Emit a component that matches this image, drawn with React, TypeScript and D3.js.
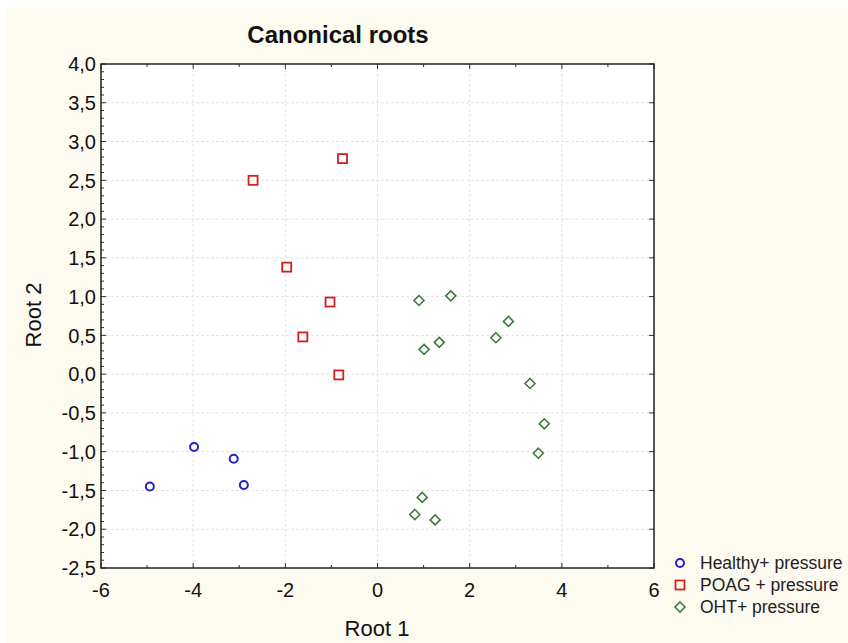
import React, { useEffect, useRef } from 'react';
import * as d3 from 'd3';

// Canonical root scores
const healthyX = [-4.94, -3.98, -3.12, -2.9];
const healthyY = [-1.45, -0.94, -1.09, -1.43];

const poagX = [-2.7, -0.76, -1.97, -1.03, -1.62, -0.84];
const poagY = [2.5, 2.78, 1.38, 0.93, 0.48, -0.01];

const ohtX = [0.9, 1.59, 2.84, 2.57, 1.01, 1.34, 3.31, 3.62, 3.49, 0.97, 0.81, 1.25];
const ohtY = [0.95, 1.01, 0.68, 0.47, 0.32, 0.41, -0.12, -0.64, -1.02, -1.59, -1.81, -1.88];

const xTicks = [-6, -4, -2, 0, 2, 4, 6];
const yTicks = [4, 3.5, 3, 2.5, 2, 1.5, 1, 0.5, 0, -0.5, -1, -1.5, -2, -2.5];

const seriesNames = ['Healthy+ pressure', 'POAG + pressure', 'OHT+ pressure'];

const W = 848;
const H = 643;

const App: React.FC = () => {
  const svgRef = useRef<SVGSVGElement>(null);

  useEffect(() => {
    document.body.style.margin = '0';
    document.body.style.overflow = 'hidden';
    if (!svgRef.current) return;
    const svg = d3.select(svgRef.current);
    svg.selectAll('*').remove();

    const left = 101, right = 654, top = 64, bottom = 568;
    const x = d3.scaleLinear().domain([-6, 6]).range([left, right]);
    const y = d3.scaleLinear().domain([-2.5, 4]).range([bottom, top]);

    svg.append('rect').attr('width', W).attr('height', H).attr('fill', '#ffffff');
    svg.append('rect').attr('x', 6).attr('y', 8).attr('width', W - 6).attr('height', H - 8).attr('fill', '#fdfaef');

    // plot background
    svg.append('rect')
      .attr('x', left).attr('y', top)
      .attr('width', right - left).attr('height', bottom - top)
      .attr('fill', '#ffffff');

    // grid
    const grid = svg.append('g').attr('stroke', '#e2e2e2').attr('stroke-width', 1).attr('stroke-dasharray', '3,2');
    xTicks.slice(1, -1).forEach(v => {
      grid.append('line').attr('x1', x(v)).attr('x2', x(v)).attr('y1', top).attr('y2', bottom);
    });
    yTicks.slice(1, -1).forEach(v => {
      grid.append('line').attr('x1', left).attr('x2', right).attr('y1', y(v)).attr('y2', y(v));
    });

    // inward ticks
    const ticks = svg.append('g').attr('stroke', '#333').attr('stroke-width', 1);
    d3.range(-6, 7, 1).forEach(v => {
      const len = v % 2 === 0 ? 5 : 3;
      ticks.append('line').attr('x1', x(v)).attr('x2', x(v)).attr('y1', top).attr('y2', top + len);
      ticks.append('line').attr('x1', x(v)).attr('x2', x(v)).attr('y1', bottom).attr('y2', bottom - len);
    });
    d3.range(-25, 41, 1).forEach(k => {
      const v = k / 10;
      const len = k % 5 === 0 ? 5 : 3;
      ticks.append('line').attr('x1', left).attr('x2', left + len).attr('y1', y(v)).attr('y2', y(v));
      if (k % 5 === 0) {
        ticks.append('line').attr('x1', right).attr('x2', right - len).attr('y1', y(v)).attr('y2', y(v));
      }
    });

    // frame
    svg.append('rect')
      .attr('x', left).attr('y', top)
      .attr('width', right - left).attr('height', bottom - top)
      .attr('fill', 'none').attr('stroke', '#222').attr('stroke-width', 1.5);

    const font = '"Liberation Sans", Arial, sans-serif';
    const fmt = (v: number) => d3.format('.1f')(v).replace('.', ',').replace('−', '-');

    svg.append('g').selectAll('text').data(yTicks).enter().append('text')
      .attr('x', left - 5).attr('y', d => y(d)).attr('dy', '0.36em')
      .attr('text-anchor', 'end').attr('font-family', font).attr('font-size', 20)
      .attr('fill', '#111').text(d => fmt(d));

    svg.append('g').selectAll('text').data(xTicks).enter().append('text')
      .attr('x', d => x(d)).attr('y', 597)
      .attr('text-anchor', 'middle').attr('font-family', font).attr('font-size', 20)
      .attr('fill', '#111').text(d => String(d));

    svg.append('text').attr('x', 338).attr('y', 43).attr('text-anchor', 'middle')
      .attr('font-family', '"Liberation Sans Narrow", "Liberation Sans", Arial, sans-serif')
      .attr('font-weight', 'bold').attr('font-size', 24).attr('fill', '#111')
      .text('Canonical roots');

    svg.append('text').attr('x', 377).attr('y', 636).attr('text-anchor', 'middle')
      .attr('font-family', font).attr('font-size', 22).attr('fill', '#111').text('Root 1');

    svg.append('text').attr('transform', 'translate(41,315) rotate(-90)').attr('text-anchor', 'middle')
      .attr('font-family', font).attr('font-size', 22).attr('fill', '#111').text('Root 2');

    const blue = '#2323c4', red = '#d41f1f', green = '#3c7d3c';
    const drawCircle = (g: any, cx: number, cy: number) =>
      g.append('circle').attr('cx', cx).attr('cy', cy).attr('r', 4).attr('fill', 'none')
        .attr('stroke', blue).attr('stroke-width', 2);
    const drawSquare = (g: any, cx: number, cy: number) =>
      g.append('rect').attr('x', cx - 4.5).attr('y', cy - 4.5).attr('width', 9).attr('height', 9)
        .attr('fill', 'none').attr('stroke', red).attr('stroke-width', 1.8);
    const drawDiamond = (g: any, cx: number, cy: number) =>
      g.append('path').attr('d', `M${cx},${cy - 5}L${cx + 5},${cy}L${cx},${cy + 5}L${cx - 5},${cy}Z`)
        .attr('fill', 'none').attr('stroke', green).attr('stroke-width', 1.6);

    const pts = svg.append('g');
    healthyX.forEach((v, i) => drawCircle(pts, x(v), y(healthyY[i])));
    poagX.forEach((v, i) => drawSquare(pts, x(v), y(poagY[i])));
    ohtX.forEach((v, i) => drawDiamond(pts, x(v), y(ohtY[i])));

    // legend
    const legend = svg.append('g');
    const drawers = [drawCircle, drawSquare, drawDiamond];
    seriesNames.forEach((name, i) => {
      const ly = 563 + i * 22;
      drawers[i](legend, 680, ly);
      legend.append('text').attr('x', 700).attr('y', ly).attr('dy', '0.35em')
        .attr('font-family', font).attr('font-size', 17.5).attr('fill', '#222').text(name);
    });
  }, []);

  return (
    <svg ref={svgRef} width={W} height={H} style={{ display: 'block' }} />
  );
};

export default App;
